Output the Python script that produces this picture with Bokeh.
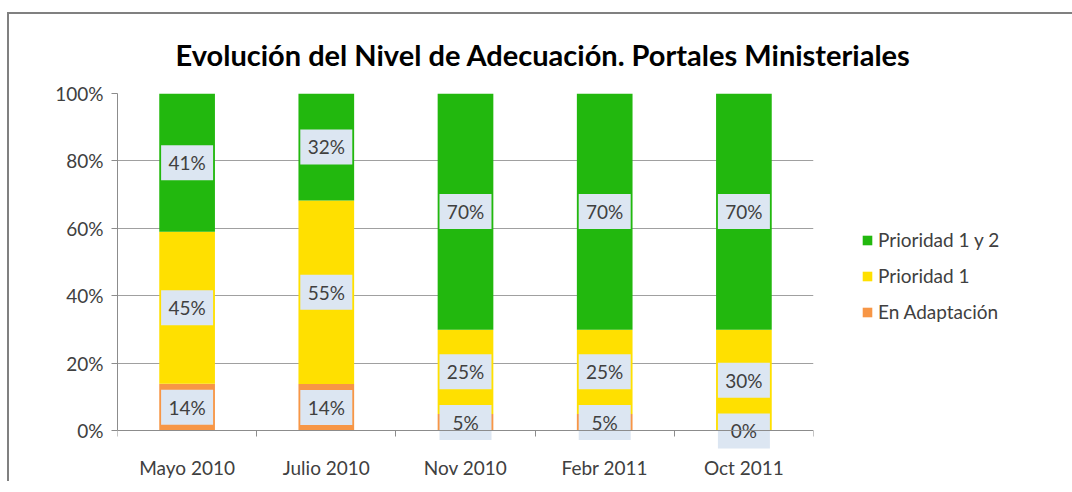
from bokeh.plotting import figure
from bokeh.models import (ColumnDataSource, FixedTicker, NumeralTickFormatter,
                          Legend, LegendItem, Range1d)
from bokeh.core.properties import value
from bokeh.embed import file_html
from bokeh.resources import INLINE

categories = ["Mayo 2010", "Julio 2010", "Nov 2010", "Febr 2011", "Oct 2011"]
en_adaptacion = [14, 14, 5, 5, 0]
prioridad_1 = [45, 55, 25, 25, 30]
prioridad_1y2 = [41, 32, 70, 70, 70]
series_names = ["En Adaptación", "Prioridad 1", "Prioridad 1 y 2"]
colors = ["#F79646", "#FFE000", "#22B80E"]

FONT = "Lato"
TXT = "#404040"
FS = "19px"

n = len(categories)
xs = [i + 0.5 for i in range(n)]
totals = [a + b + c for a, b, c in zip(en_adaptacion, prioridad_1, prioridad_1y2)]
series = [en_adaptacion, prioridad_1, prioridad_1y2]

YMIN = -0.15
p = figure(frame_width=696, frame_height=388, output_backend="svg",
           toolbar_location=None, x_range=Range1d(0, n), y_range=Range1d(YMIN, 1),
           min_border_left=108, min_border_right=258, min_border_top=79,
           min_border_bottom=0)
p.margin = (12, 0, 0, 7)
p.styles = {"border-top": "2px solid #808080", "border-left": "2px solid #808080"}
p.outline_line_color = None
p.background_fill_color = "white"
p.border_fill_color = "white"

p.title.text = "Evolución del Nivel de Adecuación. Portales Ministeriales"
p.title.text_font = FONT
p.title.text_font_size = "29px"
p.title.text_font_style = "bold"
p.title.text_color = "#000000"
p.title.align = "left"
p.title.offset = 58
p.title.standoff = 39
p.title.vertical_align = "top"

bottoms = [0.0] * n
renderers = []
label_x, label_y, label_t = [], [], []
for vals, name, col in zip(series, series_names, colors):
    fr = [v / t for v, t in zip(vals, totals)]
    tops = [b + f for b, f in zip(bottoms, fr)]
    src = ColumnDataSource(dict(x=xs, bottom=bottoms, top=tops))
    r = p.vbar(x="x", bottom="bottom", top="top", width=0.4, source=src,
               fill_color=col, line_color=None)
    renderers.append((name, r))
    for i in range(n):
        label_x.append(xs[i])
        label_y.append((bottoms[i] + tops[i]) / 2)
        label_t.append(f"{vals[i]}%")
    bottoms = tops

lsrc = ColumnDataSource(dict(x=label_x, y=label_y, t=label_t))
p.rect(x="x", y="y", width=52, height=35, width_units="screen", height_units="screen",
       source=lsrc, fill_color="#DCE6F2", line_color=None)
p.text(x="x", y="y", text="t", source=lsrc, text_align="center", text_baseline="middle",
       text_font=value(FONT), text_font_size=FS, text_color=TXT)

# category labels under the axis (kept inside the frame so they are not clipped)
csrc = ColumnDataSource(dict(x=xs, y=[0] * n, t=categories))
p.text(x="x", y="y", text="t", source=csrc, y_offset=37, text_align="center",
       text_baseline="middle", text_font=value(FONT), text_font_size=FS,
       text_color=TXT)

# grid & axes
p.xgrid.visible = False
p.ygrid.grid_line_color = "#A0A0A0"
p.ygrid.ticker = FixedTicker(ticks=[0.2, 0.4, 0.6, 0.8, 1.0])

p.yaxis.ticker = FixedTicker(ticks=[0, 0.2, 0.4, 0.6, 0.8, 1.0])
p.yaxis.bounds = (0, 1)
p.yaxis.formatter = NumeralTickFormatter(format="0%")
p.yaxis.major_tick_out = 6
p.yaxis.major_tick_in = 0
p.yaxis.minor_tick_line_color = None
p.yaxis.axis_line_color = "#8C8C8C"
p.yaxis.major_tick_line_color = "#8C8C8C"
p.yaxis.major_label_text_font = FONT
p.yaxis.major_label_text_font_size = FS
p.yaxis.major_label_text_color = TXT
p.yaxis.major_label_standoff = 8

p.xaxis.fixed_location = 0
p.xaxis.ticker = FixedTicker(ticks=xs, minor_ticks=list(range(n + 1)))
p.xaxis.major_label_overrides = {x: "" for x in xs}
p.xaxis.major_label_text_font_size = "1px"
p.xaxis.major_label_standoff = 0
p.xaxis.major_tick_line_color = None
p.xaxis.minor_tick_out = 6
p.xaxis.minor_tick_in = 0
p.xaxis.minor_tick_line_color = "#8C8C8C"
p.xaxis.axis_line_color = "#8C8C8C"

items = [LegendItem(label=name, renderers=[r]) for name, r in reversed(renderers)]
legend = Legend(items=items, location=(48, 158), background_fill_alpha=0,
                border_line_color=None, glyph_width=12, glyph_height=12,
                label_text_font=FONT, label_text_font_size=FS,
                label_text_color=TXT, label_height=20, spacing=13, padding=0,
                margin=0, label_standoff=5)
p.add_layout(legend, "right")

open("out.html", "w").write(file_html(p, INLINE))
